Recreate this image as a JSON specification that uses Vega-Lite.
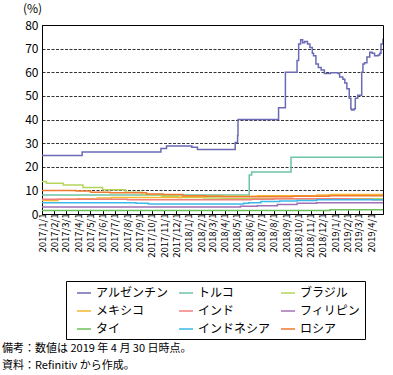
{
  "$schema": "https://vega.github.io/schema/vega-lite/v6.json",
  "autosize": {"type": "none"},
  "width": 341,
  "height": 189,
  "padding": {"left": 42, "top": 25, "right": 10, "bottom": 161},
  "background": "white",
  "config": {
    "font": "Noto Sans CJK JP",
    "view": {"stroke": "black", "strokeWidth": 1}
  },
  "title": {
    "text": ["備考：数値は 2019 年 4 月 30 日時点。", "資料：Refinitiv から作成。"],
    "orient": "bottom",
    "anchor": "start",
    "frame": "group",
    "dx": -40,
    "offset": 3,
    "fontSize": 11,
    "fontWeight": "normal",
    "lineHeight": 17,
    "color": "black"
  },
  "data": {
    "values": [
      {"c": "アルゼンチン", "d": "2017-01-01", "v": 24.75},
      {"c": "アルゼンチン", "d": "2017-04-11", "v": 26.25},
      {"c": "アルゼンチン", "d": "2017-10-24", "v": 27.75},
      {"c": "アルゼンチン", "d": "2017-11-07", "v": 28.75},
      {"c": "アルゼンチン", "d": "2018-01-09", "v": 28.25},
      {"c": "アルゼンチン", "d": "2018-01-23", "v": 27.25},
      {"c": "アルゼンチン", "d": "2018-04-27", "v": 30.25},
      {"c": "アルゼンチン", "d": "2018-05-03", "v": 33.25},
      {"c": "アルゼンチン", "d": "2018-05-04", "v": 40},
      {"c": "アルゼンチン", "d": "2018-08-13", "v": 45},
      {"c": "アルゼンチン", "d": "2018-08-30", "v": 60},
      {"c": "アルゼンチン", "d": "2018-09-28", "v": 65},
      {"c": "アルゼンチン", "d": "2018-10-02", "v": 72},
      {"c": "アルゼンチン", "d": "2018-10-07", "v": 73.8},
      {"c": "アルゼンチン", "d": "2018-10-12", "v": 72.5},
      {"c": "アルゼンチン", "d": "2018-10-17", "v": 73},
      {"c": "アルゼンチン", "d": "2018-10-24", "v": 72},
      {"c": "アルゼンチン", "d": "2018-10-30", "v": 70.5},
      {"c": "アルゼンチン", "d": "2018-11-05", "v": 68},
      {"c": "アルゼンチン", "d": "2018-11-08", "v": 67},
      {"c": "アルゼンチン", "d": "2018-11-14", "v": 63.5},
      {"c": "アルゼンチン", "d": "2018-11-20", "v": 62},
      {"c": "アルゼンチン", "d": "2018-11-27", "v": 61},
      {"c": "アルゼンチン", "d": "2018-12-05", "v": 59.5},
      {"c": "アルゼンチン", "d": "2018-12-20", "v": 59.8},
      {"c": "アルゼンチン", "d": "2019-01-08", "v": 59.5},
      {"c": "アルゼンチン", "d": "2019-01-12", "v": 58},
      {"c": "アルゼンチン", "d": "2019-01-20", "v": 57},
      {"c": "アルゼンチン", "d": "2019-01-25", "v": 55.5},
      {"c": "アルゼンチン", "d": "2019-01-30", "v": 53},
      {"c": "アルゼンチン", "d": "2019-02-05", "v": 49},
      {"c": "アルゼンチン", "d": "2019-02-09", "v": 44.5},
      {"c": "アルゼンチン", "d": "2019-02-11", "v": 44},
      {"c": "アルゼンチン", "d": "2019-02-17", "v": 44.5},
      {"c": "アルゼンチン", "d": "2019-02-20", "v": 49},
      {"c": "アルゼンチン", "d": "2019-02-26", "v": 50.3},
      {"c": "アルゼンチン", "d": "2019-03-08", "v": 60},
      {"c": "アルゼンチン", "d": "2019-03-11", "v": 63.5},
      {"c": "アルゼンチン", "d": "2019-03-15", "v": 64},
      {"c": "アルゼンチン", "d": "2019-03-21", "v": 66.5},
      {"c": "アルゼンチン", "d": "2019-03-28", "v": 68.5},
      {"c": "アルゼンチン", "d": "2019-04-03", "v": 68},
      {"c": "アルゼンチン", "d": "2019-04-09", "v": 67},
      {"c": "アルゼンチン", "d": "2019-04-18", "v": 67.3},
      {"c": "アルゼンチン", "d": "2019-04-22", "v": 68},
      {"c": "アルゼンチン", "d": "2019-04-25", "v": 72},
      {"c": "アルゼンチン", "d": "2019-04-30", "v": 74.3},

      {"c": "トルコ", "d": "2017-01-01", "v": 8.0},
      {"c": "トルコ", "d": "2018-06-01", "v": 16.5},
      {"c": "トルコ", "d": "2018-06-07", "v": 17.75},
      {"c": "トルコ", "d": "2018-09-13", "v": 24},
      {"c": "トルコ", "d": "2019-04-30", "v": 24},

      {"c": "ブラジル", "d": "2017-01-01", "v": 13.75},
      {"c": "ブラジル", "d": "2017-01-12", "v": 13.0},
      {"c": "ブラジル", "d": "2017-02-23", "v": 12.25},
      {"c": "ブラジル", "d": "2017-04-13", "v": 11.25},
      {"c": "ブラジル", "d": "2017-06-01", "v": 10.25},
      {"c": "ブラジル", "d": "2017-07-27", "v": 9.25},
      {"c": "ブラジル", "d": "2017-09-07", "v": 8.25},
      {"c": "ブラジル", "d": "2017-10-26", "v": 7.5},
      {"c": "ブラジル", "d": "2017-12-07", "v": 7.0},
      {"c": "ブラジル", "d": "2018-02-08", "v": 6.75},
      {"c": "ブラジル", "d": "2018-03-22", "v": 6.5},
      {"c": "ブラジル", "d": "2019-04-30", "v": 6.5},

      {"c": "メキシコ", "d": "2017-01-01", "v": 5.75},
      {"c": "メキシコ", "d": "2017-02-10", "v": 6.25},
      {"c": "メキシコ", "d": "2017-03-31", "v": 6.5},
      {"c": "メキシコ", "d": "2017-05-19", "v": 6.75},
      {"c": "メキシコ", "d": "2017-06-23", "v": 7.0},
      {"c": "メキシコ", "d": "2017-12-15", "v": 7.25},
      {"c": "メキシコ", "d": "2018-02-09", "v": 7.5},
      {"c": "メキシコ", "d": "2018-06-22", "v": 7.75},
      {"c": "メキシコ", "d": "2018-11-16", "v": 8.0},
      {"c": "メキシコ", "d": "2018-12-21", "v": 8.25},
      {"c": "メキシコ", "d": "2019-04-30", "v": 8.25},

      {"c": "インド", "d": "2017-01-01", "v": 6.25},
      {"c": "インド", "d": "2017-08-02", "v": 6.0},
      {"c": "インド", "d": "2018-06-06", "v": 6.25},
      {"c": "インド", "d": "2018-08-01", "v": 6.5},
      {"c": "インド", "d": "2019-02-07", "v": 6.25},
      {"c": "インド", "d": "2019-04-04", "v": 6.0},
      {"c": "インド", "d": "2019-04-30", "v": 6.0},

      {"c": "フィリピン", "d": "2017-01-01", "v": 3.0},
      {"c": "フィリピン", "d": "2018-05-10", "v": 3.25},
      {"c": "フィリピン", "d": "2018-06-21", "v": 3.5},
      {"c": "フィリピン", "d": "2018-08-10", "v": 4.0},
      {"c": "フィリピン", "d": "2018-09-28", "v": 4.5},
      {"c": "フィリピン", "d": "2018-11-16", "v": 4.75},
      {"c": "フィリピン", "d": "2019-04-30", "v": 4.75},

      {"c": "タイ", "d": "2017-01-01", "v": 1.5},
      {"c": "タイ", "d": "2018-12-19", "v": 1.75},
      {"c": "タイ", "d": "2019-04-30", "v": 1.75},

      {"c": "インドネシア", "d": "2017-01-01", "v": 4.75},
      {"c": "インドネシア", "d": "2017-08-23", "v": 4.5},
      {"c": "インドネシア", "d": "2017-09-23", "v": 4.25},
      {"c": "インドネシア", "d": "2018-05-18", "v": 4.5},
      {"c": "インドネシア", "d": "2018-05-31", "v": 4.75},
      {"c": "インドネシア", "d": "2018-06-30", "v": 5.25},
      {"c": "インドネシア", "d": "2018-08-16", "v": 5.5},
      {"c": "インドネシア", "d": "2018-09-28", "v": 5.75},
      {"c": "インドネシア", "d": "2018-11-16", "v": 6.0},
      {"c": "インドネシア", "d": "2019-04-30", "v": 6.0},

      {"c": "ロシア", "d": "2017-01-01", "v": 10.0},
      {"c": "ロシア", "d": "2017-03-27", "v": 9.75},
      {"c": "ロシア", "d": "2017-05-02", "v": 9.25},
      {"c": "ロシア", "d": "2017-06-19", "v": 9.0},
      {"c": "ロシア", "d": "2017-09-18", "v": 8.5},
      {"c": "ロシア", "d": "2017-10-30", "v": 8.25},
      {"c": "ロシア", "d": "2017-12-18", "v": 7.75},
      {"c": "ロシア", "d": "2018-02-12", "v": 7.5},
      {"c": "ロシア", "d": "2018-03-26", "v": 7.25},
      {"c": "ロシア", "d": "2018-09-17", "v": 7.5},
      {"c": "ロシア", "d": "2018-12-17", "v": 7.75},
      {"c": "ロシア", "d": "2019-04-30", "v": 7.75}
    ]
  },
  "mark": {"type": "line", "interpolate": "step-after", "strokeWidth": 1.5, "clip": true},
  "encoding": {
    "x": {
      "field": "d",
      "type": "temporal",
      "scale": {
        "type": "utc",
        "domain": [
          {"year": 2017, "month": 1, "date": 1, "utc": true},
          {"year": 2019, "month": 4, "date": 30, "utc": true}
        ],
        "nice": false
      },
      "axis": {
        "title": null,
        "format": "%Y/%-m/%-d",
        "tickCount": {"interval": "month", "step": 1},
        "labelAngle": 270,
        "labelFontSize": 9.5,
        "labelColor": "black",
        "labelOverlap": false,
        "labelBound": false,
        "labelFlush": false,
        "labelPadding": 3,
        "tickSize": -4,
        "tickColor": "black",
        "tickWidth": 1,
        "domainColor": "black",
        "domainWidth": 1,
        "grid": false
      }
    },
    "y": {
      "field": "v",
      "type": "quantitative",
      "scale": {"domain": [0, 80], "nice": false},
      "axis": {
        "values": [0, 10, 20, 30, 40, 50, 60, 70, 80],
        "title": "(%)",
        "titleAngle": 0,
        "titleAlign": "center",
        "titleBaseline": "middle",
        "titleX": -10,
        "titleY": -17,
        "titleFontSize": 12,
        "titleFontWeight": "normal",
        "titleColor": "black",
        "labelFontSize": 12,
        "labelColor": "black",
        "labelPadding": 4,
        "ticks": false,
        "domainColor": "black",
        "grid": true,
        "gridColor": "black",
        "gridDash": [3, 1.5],
        "gridWidth": 0.8
      }
    },
    "color": {
      "field": "c",
      "type": "nominal",
      "scale": {
        "domain": ["アルゼンチン", "トルコ", "ブラジル", "メキシコ", "インド", "フィリピン", "タイ", "インドネシア", "ロシア"],
        "range": ["#6b6bb5", "#6cc4a4", "#b5d55a", "#f5b731", "#f08080", "#a070b5", "#6cbf5a", "#3cb8ea", "#f07a30"]
      },
      "legend": {
        "title": null,
        "orient": "none",
        "legendX": 24,
        "legendY": 256,
        "columns": 3,
        "direction": "horizontal",
        "strokeColor": "black",
        "padding": 4,
        "symbolType": "stroke",
        "symbolSize": 196,
        "symbolOffset": 6,
        "symbolStrokeWidth": 1.5,
        "labelFontSize": 12,
        "labelColor": "black",
        "labelOffset": 4,
        "labelLimit": 200,
        "columnPadding": 3,
        "rowPadding": 4
      }
    }
  }
}
